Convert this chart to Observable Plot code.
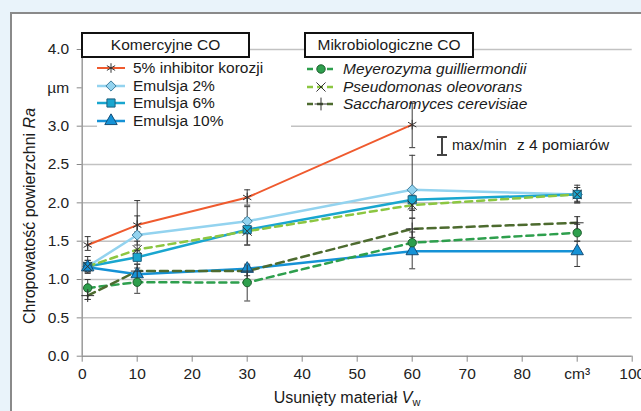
<!DOCTYPE html>
<html><head><meta charset="utf-8">
<script src="https://cdn.jsdelivr.net/npm/d3@7"></script>
<script src="https://cdn.jsdelivr.net/npm/@observablehq/plot@0.6"></script>
<style>
html,body{margin:0;padding:0;width:641px;height:411px;overflow:hidden;background:#e9f3fa;font-family:"Liberation Sans",Arial,sans-serif;color:#1a1a1a;}
#panel{position:absolute;left:10px;top:12px;width:700px;height:500px;background:#fff;border-top:2px solid #8a8a8a;border-left:2px solid #8a8a8a;}
#chart{position:absolute;left:0;top:0;}
.ov{position:absolute;white-space:nowrap;}
.box{position:absolute;box-sizing:border-box;border:2px solid #111;background:#fff;font-size:15.5px;text-align:center;line-height:22px;}
.row{position:absolute;font-size:15.5px;line-height:18px;white-space:nowrap;}
.row svg{position:absolute;left:0;top:0;}
</style></head><body>
<div id="panel"></div>
<div id="chart"></div>
<div id="overlay"></div>
<script>
const xs = [1, 10, 30, 60, 90];
const seriesNames = ["5% inhibitor korozji", "Emulsja 2%", "Emulsja 6%", "Emulsja 10%",
  "Meyerozyma guilliermondii", "Pseudomonas oleovorans", "Saccharomyces cerevisiae"];
const inhibitorRa  = [1.45, 1.71, 2.07, 3.02, null];
const inhibitorMin = [1.38, 1.62, 1.97, 2.72, null];
const inhibitorMax = [1.56, 1.83, 2.17, 3.30, null];
const emulsja2Ra  = [1.17, 1.58, 1.76, 2.17, 2.11];
const emulsja2Min = [1.10, 1.45, 1.60, 1.90, 2.00];
const emulsja2Max = [1.25, 2.03, 1.95, 2.62, 2.23];
const emulsja6Ra  = [1.17, 1.29, 1.65, 2.04, 2.11];
const emulsja6Min = [1.10, 1.20, 1.45, 1.92, 2.02];
const emulsja6Max = [1.25, 1.38, 1.80, 2.15, 2.20];
const emulsja10Ra  = [1.16, 1.07, 1.14, 1.37, 1.37];
const emulsja10Min = [1.08, 1.00, 1.05, 1.14, 1.17];
const emulsja10Max = [1.22, 1.15, 1.20, 1.55, 1.50];
const meyerozymaRa  = [0.89, 0.965, 0.96, 1.48, 1.61];
const meyerozymaMin = [0.74, 0.82, 0.72, 1.35, 1.50];
const meyerozymaMax = [1.00, 1.05, 1.10, 1.62, 1.72];
const pseudomonasRa  = [1.17, 1.39, 1.63, 1.97, 2.11];
const pseudomonasMin = [1.10, 1.30, 1.45, 1.80, 2.00];
const pseudomonasMax = [1.30, 1.50, 1.75, 2.10, 2.20];
const saccharomycesRa  = [0.79, 1.11, 1.11, 1.66, 1.74];
const saccharomycesMin = [0.74, 1.00, 1.00, 1.50, 1.65];
const saccharomycesMax = [0.85, 1.20, 1.18, 1.80, 1.82];
const yTicks = [0, 0.5, 1, 1.5, 2, 2.5, 3, 3.5, 4];
const yTickLabels = ["0.0", "0.5", "1.0", "1.5", "2.0", "2.5", "3.0", "µm", "4.0"];
const xTicks = [0, 10, 20, 30, 40, 50, 60, 70, 80, 90, 100];
const xTickLabels = ["0", "10", "20", "30", "40", "50", "60", "70", "80", "cm³", "100"];
const gridY = [0.5, 1, 1.5, 2, 2.5, 3, 4];

const values = [inhibitorRa, emulsja2Ra, emulsja6Ra, emulsja10Ra, meyerozymaRa, pseudomonasRa, saccharomycesRa];
const mins = [inhibitorMin, emulsja2Min, emulsja6Min, emulsja10Min, meyerozymaMin, pseudomonasMin, saccharomycesMin];
const maxs = [inhibitorMax, emulsja2Max, emulsja6Max, emulsja10Max, meyerozymaMax, pseudomonasMax, saccharomycesMax];

const styles = [
  {stroke: "#ef5a2e", width: 2, dash: null, symbol: "asterisk", mfill: "none", mstroke: "#333", r: 4.5, italic: false},
  {stroke: "#93d3ef", width: 2.5, dash: null, symbol: "diamond2", mfill: "#93d3ef", mstroke: "#3f7f9f", r: 4.6, italic: false},
  {stroke: "#19a6cf", width: 2.5, dash: null, symbol: "square", mfill: "#19a6cf", mstroke: "#1c5f7e", r: 4.6, italic: false},
  {stroke: "#1592d6", width: 2.5, dash: null, symbol: "triangle", mfill: "#1592d6", mstroke: "#164f78", r: 4.6, italic: false},
  {stroke: "#2e9f4d", width: 2.5, dash: "7,5", symbol: "circle", mfill: "#2e9f4d", mstroke: "#1d5e2d", r: 4.2, italic: true},
  {stroke: "#8cc641", width: 2.5, dash: "7,5", symbol: "times", mfill: "none", mstroke: "#333", r: 4.2, italic: true},
  {stroke: "#4d6b2f", width: 2.5, dash: "8,5", symbol: "plus", mfill: "none", mstroke: "#333", r: 4.2, italic: true}
];

const rows = [];
seriesNames.forEach((name, i) => {
  xs.forEach((x, j) => {
    if (values[i][j] != null) rows.push({series: name, idx: i, x, y: values[i][j], lo: mins[i][j], hi: maxs[i][j]});
  });
});

const cap = {draw(ctx) { ctx.moveTo(-3, 0); ctx.lineTo(3, 0); }};

const marks = [
  Plot.ruleY(gridY, {stroke: "#c2c2c2", strokeWidth: 1.5}),
  Plot.ruleY([0], {stroke: "#9a9a9a", strokeWidth: 1.5}),
  Plot.ruleX([0], {stroke: "#9a9a9a", strokeWidth: 1.5}),
  Plot.axisY({ticks: yTicks, tickFormat: (d) => yTickLabels[yTicks.indexOf(d)], tickSize: 5, tickPadding: 8,
    fontSize: 15.5, stroke: "#888", fill: "#222", label: null}),
  Plot.axisX({ticks: xTicks, tickFormat: (d) => xTickLabels[xTicks.indexOf(d)], tickSize: 6, tickPadding: 6,
    fontSize: 15.5, stroke: "#888", fill: "#222", label: null})
];
styles.forEach((s, i) => {
  const data = rows.filter(r => r.idx === i);
  marks.push(Plot.line(data, {x: "x", y: "y", stroke: s.stroke, strokeWidth: s.width, strokeDasharray: s.dash}));
});
marks.push(Plot.ruleX(rows, {x: "x", y1: "lo", y2: "hi", stroke: "#3a3a3a", strokeWidth: 1}));
marks.push(Plot.dot(rows, {x: "x", y: "lo", symbol: cap, stroke: "#3a3a3a", strokeWidth: 1, r: 3}));
marks.push(Plot.dot(rows, {x: "x", y: "hi", symbol: cap, stroke: "#3a3a3a", strokeWidth: 1, r: 3}));
styles.forEach((s, i) => {
  const data = rows.filter(r => r.idx === i);
  marks.push(Plot.dot(data, {x: "x", y: "y", symbol: s.symbol, r: s.r, fill: s.mfill, stroke: s.mstroke, strokeWidth: 1}));
});

const chart = Plot.plot({
  width: 641, height: 411,
  marginLeft: 81.7, marginRight: 9.3, marginTop: 49, marginBottom: 55.3,
  x: {domain: [0, 100]}, y: {domain: [0, 4]},
  style: {background: "transparent", fontFamily: "Liberation Sans, Arial, sans-serif"},
  marks
});
document.getElementById("chart").appendChild(chart);

// overlay: legends and labels
const ov = document.getElementById("overlay");
function add(html, css, cls = "ov") {
  const d = document.createElement("div");
  d.className = cls;
  d.innerHTML = html;
  Object.assign(d.style, css);
  ov.appendChild(d);
  return d;
}
const symMap = {asterisk: d3.symbolAsterisk, diamond2: d3.symbolDiamond2, square: d3.symbolSquare,
  triangle: d3.symbolTriangle, circle: d3.symbolCircle, times: d3.symbolTimes, plus: d3.symbolPlus};
function legendSvg(s) {
  const path = d3.symbol(symMap[s.symbol], Math.PI * s.r * s.r)();
  return `<svg width="30" height="18"><line x1="1" x2="29" y1="9" y2="9" stroke="${s.stroke}" stroke-width="${s.width}" ${s.dash ? `stroke-dasharray="6,4"` : ""}/>` +
    `<path d="${path}" transform="translate(15,9)" fill="${s.mfill}" stroke="${s.mstroke}" stroke-width="1"/></svg>`;
}
// white background behind the left legend
add("", {left: "97px", top: "58px", width: "194px", height: "70px", background: "#fff"});
add("Komercyjne CO", {left: "81px", top: "32px", width: "169px", height: "26px"}, "box");
add("Mikrobiologiczne CO", {left: "304px", top: "32px", width: "170px", height: "26px"}, "box");
const rowY1 = [59, 76.5, 94, 111.5];
for (let i = 0; i < 4; i++) {
  add(legendSvg(styles[i]) + `<span style="position:absolute;left:37px;top:0">${seriesNames[i]}</span>`,
    {left: "96px", top: rowY1[i] + "px"}, "row");
}
const rowY2 = [60, 77.5, 95];
for (let i = 4; i < 7; i++) {
  add(legendSvg(styles[i]) + `<span style="position:absolute;left:37px;top:0;font-style:italic">${seriesNames[i]}</span>`,
    {left: "306px", top: rowY2[i - 4] + "px"}, "row");
}
// max/min annotation
add(`<svg width="14" height="22"><path d="M2,2H12M7,2V20M2,20H12" stroke="#444" stroke-width="2" fill="none"/></svg>`,
  {left: "435px", top: "135px"});
add("max/min", {left: "452px", top: "137px", fontSize: "14.5px"});
add("z 4 pomiarów", {left: "517px", top: "136px", fontSize: "15.5px"});
// axis labels
add(`Chropowatość powierzchni <i>Ra</i>`, {left: (30 - 150) + "px", top: (215.5 - 10) + "px", width: "300px",
  textAlign: "center", fontSize: "16px", lineHeight: "20px", transform: "rotate(-90deg)", transformOrigin: "150px 10px"});
add(`Usunięty materiał <i>V</i><sub style="font-size:11px;vertical-align:-3px">w</sub>`,
  {left: (347 - 150) + "px", top: "388px", width: "300px", textAlign: "center", fontSize: "16px", lineHeight: "20px"});
</script>
</body></html>
